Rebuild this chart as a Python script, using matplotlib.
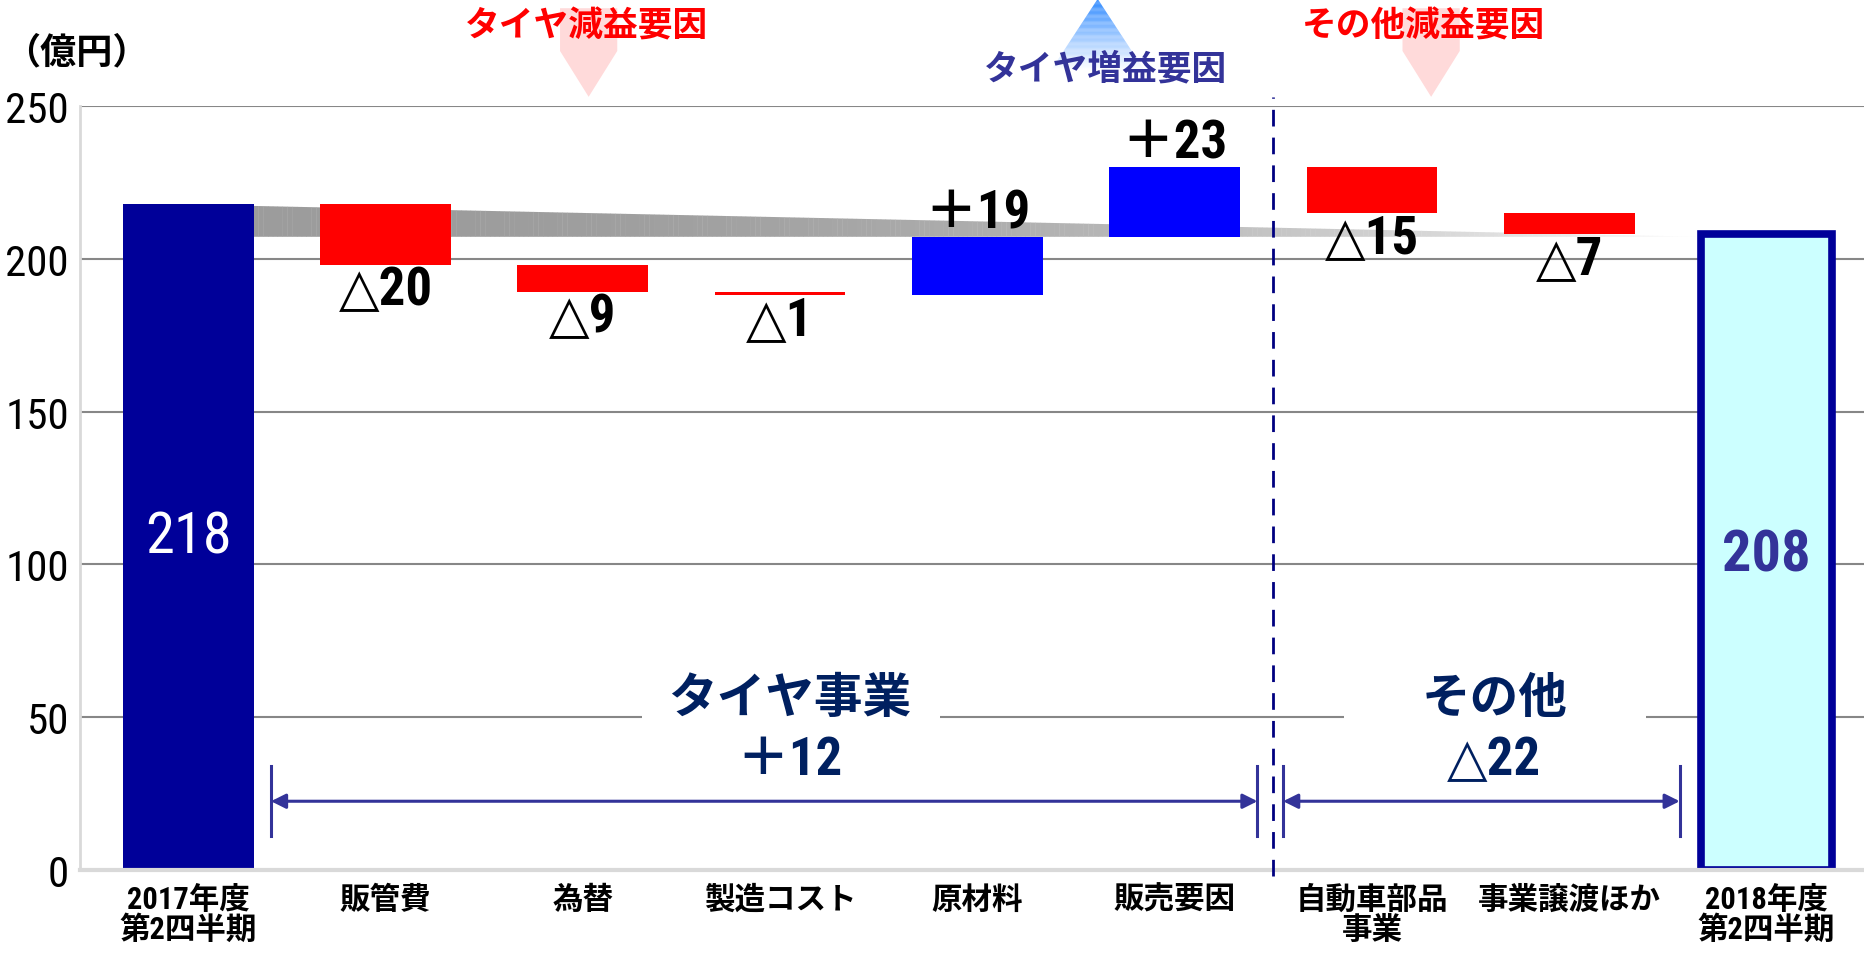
import numpy as np
import matplotlib
matplotlib.use("Agg")
from matplotlib import pyplot as plt
from matplotlib import font_manager
from matplotlib.patches import Polygon, Rectangle

JP = "Noto Sans CJK JP"
names = {f.name for f in font_manager.fontManager.ttflist}
NARROW = "Roboto Condensed" if "Roboto Condensed" in names else "Liberation Sans"
plt.rcParams["font.family"] = [NARROW, JP, "DejaVu Sans"]
VALUE_FONT = [NARROW, "DejaVu Sans", JP]

# data
categories = ["2017年度\n第2四半期", "販管費", "為替", "製造コスト", "原材料", "販売要因",
              "自動車部品\n事業", "事業譲渡ほか", "2018年度\n第2四半期"]
start_value = 218
changes = [-20, -9, -1, 19, 23, -15, -7]
end_value = 208
yticks = [0, 50, 100, 150, 200, 250]
groups = ["タイヤ事業", "その他"]
group_totals = ["＋12", "△22"]

RED = "#ff0000"
BLUE = "#0000ff"
NAVY = "#000099"
TEXT_NAVY = "#002060"
ARROW_NAVY = "#333399"

fig = plt.figure(figsize=(18.64, 9.54), dpi=100)
ax = fig.add_axes([80 / 1864, 83 / 954, 1 - 80 / 1864, (871 - 107) / 954])
ax.set_xlim(-0.548, 8.494)
ax.set_ylim(0, 250)

width = 0.663
x = np.arange(len(categories))

# running totals
bottoms = []
level = start_value
for c in changes:
    new = level + c
    bottoms.append(min(level, new))
    level = new

# gray gradient wedge behind the bars
x0, x1 = width / 2, 8 - width / 2
top0, base = 217.3, 207.2
n = 300
xs = np.linspace(x0, x1, n + 1)
for i in range(n):
    f = i / n
    g = 0.61 + 0.39 * f ** 2.5
    ta = top0 + (base - top0) * (xs[i] - x0) / (x1 - x0)
    tb = top0 + (base - top0) * (xs[i + 1] - x0) / (x1 - x0)
    ax.add_patch(Polygon([(xs[i], base), (xs[i], ta), (xs[i + 1] + 0.002, tb), (xs[i + 1] + 0.002, base)],
                         closed=True, facecolor=(g, g, g), edgecolor="none", zorder=1.5))

ax.bar(x[0], start_value, width, color=NAVY, zorder=2)
ax.bar(x[1:-1], np.abs(changes), width, bottom=bottoms,
       color=[RED if c < 0 else BLUE for c in changes], zorder=2)
ax.bar(x[-1], end_value, width, facecolor="#ccffff", edgecolor=NAVY, linewidth=5.5, zorder=2)

ax.text(x[0], 109, str(start_value), color="white", fontsize=42, ha="center", va="center", zorder=3)
ax.text(x[-1], 103, str(end_value), color=ARROW_NAVY, fontsize=42, fontweight="bold",
        ha="center", va="center", zorder=3)

for i, c in enumerate(changes):
    label = ("＋%d" if c > 0 else "△%d") % abs(c)
    if c > 0:
        y = bottoms[i] + abs(c) + 8
    else:
        y = bottoms[i] - 8
    ax.text(x[i + 1], y, label, fontsize=38, fontweight="bold", ha="center", va="center",
            family=VALUE_FONT, zorder=4)

# axes styling
ax.set_yticks(yticks)
ax.set_yticklabels([str(v) for v in yticks], fontsize=31)
ax.set_xticks(x)
ax.set_xticklabels(categories, fontsize=22, fontweight="bold", linespacing=1.0,
                   family=[NARROW, JP])
ax.tick_params(axis="both", length=0)
ax.tick_params(axis="y", pad=8)
ax.tick_params(axis="x", pad=10)
ax.grid(axis="y", color="#878787", linewidth=1.5)
ax.set_axisbelow(True)
for s in ["top", "right"]:
    ax.spines[s].set_visible(False)
ax.spines["left"].set_color("#d9d9d9")
ax.spines["left"].set_linewidth(2)
ax.spines["bottom"].set_color("#d9d9d9")
ax.spines["bottom"].set_linewidth(3)

# divider
ax.plot([5.5, 5.5], [-2, 253], color="#000080", linewidth=2, dashes=(6, 4), clip_on=False, zorder=3)

# white boxes breaking the 50 gridline
ax.add_patch(Rectangle((2.30, 40), 1.51, 22, facecolor="white", edgecolor="none", zorder=1))
ax.add_patch(Rectangle((5.86, 40), 1.53, 22, facecolor="white", edgecolor="none", zorder=1))

# group arrows
for xa, xb in [(0.42, 5.42), (5.55, 7.56)]:
    ax.annotate("", xy=(xb, 22.5), xytext=(xa, 22.5),
                arrowprops=dict(arrowstyle="<|-|>", color=ARROW_NAVY, lw=2.2,
                                mutation_scale=22, shrinkA=0, shrinkB=0), zorder=3)
    ax.plot([xa, xa], [11, 34], color=ARROW_NAVY, linewidth=2.2, zorder=3)
    ax.plot([xb, xb], [11, 34], color=ARROW_NAVY, linewidth=2.2, zorder=3)

for gx, name, total in [(3.05, groups[0], group_totals[0]), (6.62, groups[1], group_totals[1])]:
    ax.text(gx, 56.3, name, color=TEXT_NAVY, fontsize=35, fontweight="bold",
            ha="center", va="center", family=[JP], zorder=4)
    ax.text(gx, 36, total, color=TEXT_NAVY, fontsize=38, fontweight="bold",
            ha="center", va="center", family=VALUE_FONT, zorder=4)

# pink down arrows above the plot
for cx in [2.03, 6.3]:
    hw = 0.145
    ax.add_patch(Polygon([(cx - hw, 282), (cx + hw, 282), (cx + hw, 268), (cx, 253), (cx - hw, 268)],
                         closed=True, facecolor="#ffdada", edgecolor="none", clip_on=False, zorder=1))

# blue up arrow with fade
tipx, tipy, fade_y = 4.61, 285, 262
m = 60
ys = np.linspace(tipy, fade_y, m + 1)
for i in range(m):
    f = i / m
    col = np.array([0.20, 0.55, 1.0]) * (1 - f) + np.array([1.0, 1.0, 1.0]) * f
    wa = 0.142 * (tipy - ys[i]) / 14
    wb = 0.142 * (tipy - ys[i + 1]) / 14
    ax.add_patch(Polygon([(tipx - wa, ys[i] + 0.05), (tipx + wa, ys[i] + 0.05),
                          (tipx + wb, ys[i + 1]), (tipx - wb, ys[i + 1])],
                         closed=True, facecolor=col, edgecolor="none", clip_on=False, zorder=1))

ax.text(2.02, 276.5, "タイヤ減益要因", color=RED, fontsize=25, fontweight="bold",
        ha="center", va="center", family=[JP], zorder=4)
ax.text(4.65, 262.5, "タイヤ増益要因", color=ARROW_NAVY, fontsize=25, fontweight="bold",
        ha="center", va="center", family=[JP], zorder=4)
ax.text(6.26, 276.5, "その他減益要因", color=RED, fontsize=25, fontweight="bold",
        ha="center", va="center", family=[JP], zorder=4)

fig.text(4 / 1864, 1 - 53 / 954, "（億円）", fontsize=26, fontweight="bold",
         ha="left", va="center", family=[JP])

fig.savefig("out.png", dpi=100)
